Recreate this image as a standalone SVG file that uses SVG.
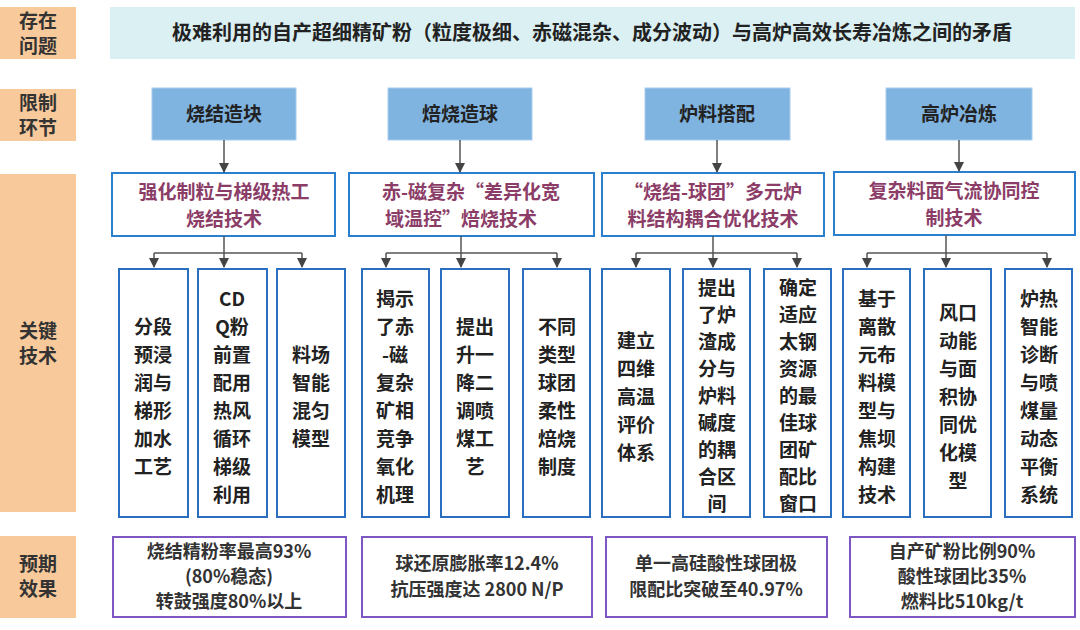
<svg xmlns="http://www.w3.org/2000/svg" width="1080" height="630" viewBox="0 0 1080 630">
<defs>
<marker id="ar" viewBox="0 0 10 10" refX="9" refY="5" markerWidth="7" markerHeight="7" orient="auto"><path d="M0,0L10,5L0,10z" fill="#444"/></marker>
<style>
text{font-family:"Noto Sans CJK SC","Noto Sans",sans-serif;font-weight:bold;text-anchor:middle}
.lab{fill:#F8C99A}
.labt{font-size:19px;fill:#333}
.lim{fill:#7FB3E0;stroke:#a9cdee;stroke-width:1}
.limt{font-size:19px;fill:#222}
.tech{fill:#fff;stroke:#2A7FCF;stroke-width:2}
.techt{font-size:19px;fill:#8B3D68}
.leaf{fill:#fff;stroke:#2A6FBF;stroke-width:2}
.leaft{font-size:19px;fill:#222}
.res{fill:#fff;stroke:#7E57C2;stroke-width:2}
.rest{font-size:18px;fill:#333}
.c{fill:none;stroke:#555;stroke-width:1.5}
</style>
</defs>
<rect width="1080" height="630" fill="#fff"/>
<g id="labels">
<rect class="lab" x="0" y="7" width="76" height="52"/><text class="labt" x="38" y="28">存在</text><text class="labt" x="38" y="53">问题</text>
<rect class="lab" x="0" y="89" width="76" height="52"/><text class="labt" x="38" y="110">限制</text><text class="labt" x="38" y="135">环节</text>
<rect class="lab" x="0" y="174" width="76" height="338"/><text class="labt" x="38" y="338">关键</text><text class="labt" x="38" y="363">技术</text>
<rect class="lab" x="0" y="536" width="76" height="82"/><text class="labt" x="38" y="571">预期</text><text class="labt" x="38" y="596">效果</text>
</g>
<g id="problem"><rect x="110" y="7" width="965" height="52" fill="#DAF0F2"/><text x="592" y="40" font-size="20" fill="#222">极难利用的自产超细精矿粉（粒度极细、赤磁混杂、成分波动）与高炉高效长寿冶炼之间的矛盾</text></g>
<g id="lim1"><rect class="lim" x="152" y="88" width="144" height="52"/><text class="limt" x="224" y="121">烧结造块</text></g>
<g id="lim2"><rect class="lim" x="388" y="88" width="144" height="52"/><text class="limt" x="460" y="121">焙烧造球</text></g>
<g id="lim3"><rect class="lim" x="645" y="88" width="145" height="52"/><text class="limt" x="717" y="121">炉料搭配</text></g>
<g id="lim4"><rect class="lim" x="886" y="88" width="146" height="52"/><text class="limt" x="959" y="121">高炉冶炼</text></g>
<g id="tech1"><rect class="tech" x="112" y="173" width="223" height="63"/><text class="techt" x="224" y="199">强化制粒与梯级热工</text><text class="techt" x="224" y="226">烧结技术</text></g>
<g id="tech2"><rect class="tech" x="349" y="173" width="245" height="63"/><text class="techt" x="471" y="199">赤-磁复杂“差异化宽</text><text class="techt" x="461" y="226">域温控”焙烧技术</text></g>
<g id="tech3"><rect class="tech" x="602" y="173" width="222" height="63"/><text class="techt" x="713" y="199">“烧结-球团”多元炉</text><text class="techt" x="713" y="226">料结构耦合优化技术</text></g>
<g id="tech4"><rect class="tech" x="834" y="172" width="241" height="63"/><text class="techt" x="954" y="198">复杂料面气流协同控</text><text class="techt" x="954" y="225">制技术</text></g>
<g id="connectors">
<path class="c" marker-end="url(#ar)" d="M224,140V172"/>
<path class="c" marker-end="url(#ar)" d="M460,140V172"/>
<path class="c" marker-end="url(#ar)" d="M717,140V172"/>
<path class="c" marker-end="url(#ar)" d="M959,140V171"/>
<path class="c" d="M224,236V253M154,253H302"/>
<path class="c" marker-end="url(#ar)" d="M154,253V267"/><path class="c" marker-end="url(#ar)" d="M224,253V267"/><path class="c" marker-end="url(#ar)" d="M302,253V267"/>
<path class="c" d="M461,236V253M386,253H557"/>
<path class="c" marker-end="url(#ar)" d="M386,253V267"/><path class="c" marker-end="url(#ar)" d="M461,253V267"/><path class="c" marker-end="url(#ar)" d="M557,253V267"/>
<path class="c" d="M713,236V253M636,253H797"/>
<path class="c" marker-end="url(#ar)" d="M636,253V267"/><path class="c" marker-end="url(#ar)" d="M713,253V267"/><path class="c" marker-end="url(#ar)" d="M797,253V267"/>
<path class="c" d="M946,235V253M867,253H1047"/>
<path class="c" marker-end="url(#ar)" d="M867,253V267"/><path class="c" marker-end="url(#ar)" d="M946,253V267"/><path class="c" marker-end="url(#ar)" d="M1047,253V267"/>
</g>
<g id="leaf1"><rect class="leaf" x="119" y="269" width="69" height="248"/><text class="leaft" x="153"><tspan x="153" y="334">分段</tspan><tspan x="153" y="362">预浸</tspan><tspan x="153" y="390">润与</tspan><tspan x="153" y="418">梯形</tspan><tspan x="153" y="446">加水</tspan><tspan x="153" y="474">工艺</tspan></text></g>
<g id="leaf2"><rect class="leaf" x="198" y="269" width="69" height="248"/><text class="leaft"><tspan x="232" y="306">CD</tspan><tspan x="232" y="334">Q粉</tspan><tspan x="232" y="362">前置</tspan><tspan x="232" y="390">配用</tspan><tspan x="232" y="418">热风</tspan><tspan x="232" y="446">循环</tspan><tspan x="232" y="474">梯级</tspan><tspan x="232" y="502">利用</tspan></text></g>
<g id="leaf3"><rect class="leaf" x="277" y="269" width="68" height="248"/><text class="leaft"><tspan x="311" y="362">料场</tspan><tspan x="311" y="390">智能</tspan><tspan x="311" y="418">混匀</tspan><tspan x="311" y="446">模型</tspan></text></g>
<g id="leaf4"><rect class="leaf" x="362" y="269" width="67" height="248"/><text class="leaft"><tspan x="395" y="306">揭示</tspan><tspan x="395" y="334">了赤</tspan><tspan x="395" y="362">-磁</tspan><tspan x="395" y="390">复杂</tspan><tspan x="395" y="418">矿相</tspan><tspan x="395" y="446">竞争</tspan><tspan x="395" y="474">氧化</tspan><tspan x="395" y="502">机理</tspan></text></g>
<g id="leaf5"><rect class="leaf" x="441" y="269" width="68" height="248"/><text class="leaft"><tspan x="475" y="334">提出</tspan><tspan x="475" y="362">升一</tspan><tspan x="475" y="390">降二</tspan><tspan x="475" y="418">调喷</tspan><tspan x="475" y="446">煤工</tspan><tspan x="475" y="474">艺</tspan></text></g>
<g id="leaf6"><rect class="leaf" x="523" y="269" width="67" height="248"/><text class="leaft"><tspan x="557" y="334">不同</tspan><tspan x="557" y="362">类型</tspan><tspan x="557" y="390">球团</tspan><tspan x="557" y="418">柔性</tspan><tspan x="557" y="446">焙烧</tspan><tspan x="557" y="474">制度</tspan></text></g>
<g id="leaf7"><rect class="leaf" x="602" y="269" width="68" height="248"/><text class="leaft"><tspan x="636" y="348">建立</tspan><tspan x="636" y="376">四维</tspan><tspan x="636" y="404">高温</tspan><tspan x="636" y="432">评价</tspan><tspan x="636" y="460">体系</tspan></text></g>
<g id="leaf8"><rect class="leaf" x="683" y="269" width="67" height="248"/><text class="leaft"><tspan x="717" y="295">提出</tspan><tspan x="717" y="322">了炉</tspan><tspan x="717" y="349">渣成</tspan><tspan x="717" y="376">分与</tspan><tspan x="717" y="403">炉料</tspan><tspan x="717" y="430">碱度</tspan><tspan x="717" y="457">的耦</tspan><tspan x="717" y="484">合区</tspan><tspan x="717" y="511">间</tspan></text></g>
<g id="leaf9"><rect class="leaf" x="764" y="269" width="67" height="248"/><text class="leaft"><tspan x="798" y="295">确定</tspan><tspan x="798" y="322">适应</tspan><tspan x="798" y="349">太钢</tspan><tspan x="798" y="376">资源</tspan><tspan x="798" y="403">的最</tspan><tspan x="798" y="430">佳球</tspan><tspan x="798" y="457">团矿</tspan><tspan x="798" y="484">配比</tspan><tspan x="798" y="511">窗口</tspan></text></g>
<g id="leaf10"><rect class="leaf" x="843" y="269" width="67" height="248"/><text class="leaft"><tspan x="877" y="306">基于</tspan><tspan x="877" y="334">离散</tspan><tspan x="877" y="362">元布</tspan><tspan x="877" y="390">料模</tspan><tspan x="877" y="418">型与</tspan><tspan x="877" y="446">焦坝</tspan><tspan x="877" y="474">构建</tspan><tspan x="877" y="502">技术</tspan></text></g>
<g id="leaf11"><rect class="leaf" x="924" y="269" width="67" height="248"/><text class="leaft"><tspan x="958" y="320">风口</tspan><tspan x="958" y="348">动能</tspan><tspan x="958" y="376">与面</tspan><tspan x="958" y="404">积协</tspan><tspan x="958" y="432">同优</tspan><tspan x="958" y="460">化模</tspan><tspan x="958" y="488">型</tspan></text></g>
<g id="leaf12"><rect class="leaf" x="1005" y="269" width="67" height="248"/><text class="leaft"><tspan x="1039" y="306">炉热</tspan><tspan x="1039" y="334">智能</tspan><tspan x="1039" y="362">诊断</tspan><tspan x="1039" y="390">与喷</tspan><tspan x="1039" y="418">煤量</tspan><tspan x="1039" y="446">动态</tspan><tspan x="1039" y="474">平衡</tspan><tspan x="1039" y="502">系统</tspan></text></g>
<g id="res1"><rect class="res" x="113" y="537" width="233" height="80"/><text class="rest"><tspan x="229" y="558">烧结精粉率最高93%</tspan><tspan x="229" y="583">(80%稳态)</tspan><tspan x="229" y="608">转鼓强度80%以上</tspan></text></g>
<g id="res2"><rect class="res" x="362" y="537" width="230" height="80"/><text class="rest"><tspan x="477" y="570">球还原膨胀率12.4%</tspan><tspan x="477" y="596">抗压强度达 2800 N/P</tspan></text></g>
<g id="res3"><rect class="res" x="606" y="537" width="221" height="80"/><text class="rest"><tspan x="716" y="570">单一高硅酸性球团极</tspan><tspan x="716" y="596">限配比突破至40.97%</tspan></text></g>
<g id="res4"><rect class="res" x="850" y="537" width="225" height="80"/><text class="rest"><tspan x="962" y="558">自产矿粉比例90%</tspan><tspan x="962" y="583">酸性球团比35%</tspan><tspan x="962" y="608">燃料比510kg/t</tspan></text></g>
</svg>
